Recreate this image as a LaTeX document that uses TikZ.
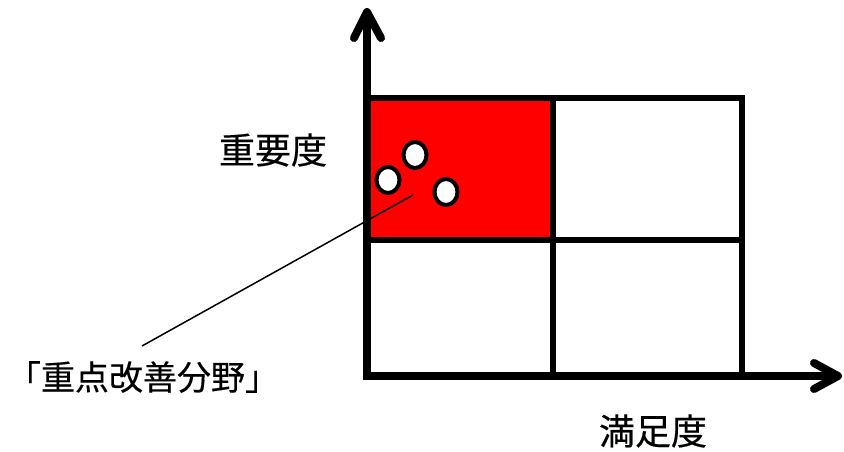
\documentclass[tikz,border=0pt]{standalone}
\usepackage{fontspec}
\newfontfamily\jp[FakeBold=0.4]{Noto Sans CJK JP}
\usetikzlibrary{shapes.geometric}
\begin{document}
\begin{tikzpicture}[x=1pt,y=-1pt,
  cell/.style={draw=black,line width=6pt},
  axis/.style={draw=black,line width=8pt,line cap=round,line join=round},
  dot/.style={ellipse,draw=black,fill=white,line width=4pt,inner sep=0pt,minimum width=23pt,minimum height=26pt},
  lbl/.style={font=\jp\fontsize{34}{40}\selectfont,inner sep=0pt},
  lblbig/.style={lbl,font=\jp\fontsize{36}{42}\selectfont}]
\useasboundingbox (0,0) rectangle (844,452);
\fill[red] (367,98) rectangle (553,240);
\draw[cell] (367,98) rectangle (742,376);
\draw[cell] (553,98) -- (553,376);
\draw[cell] (367,240) -- (742,240);
\coordinate (otop) at (367,12);
\coordinate (o) at (367,378);
\coordinate (xo) at (363,376);
\coordinate (xr) at (838,376);
\draw[axis,line cap=butt] (o) -- (otop);
\draw[axis] (354,38) -- (otop) -- (381,38);
\draw[axis,line cap=butt] (xo) -- (xr);
\draw[axis] (814,363) -- (xr) -- (814,389);
\node[dot] (c1) at (415,155) {};
\node[dot] (c2) at (388,180) {};
\node[dot] (c3) at (446,192) {};
\node[lblbig] (imp) at (273,150) {重要度};
\node[lblbig] (sat) at (653,431) {満足度};
\node[lbl] (area) at (143,377) {「重点改善分野」};
\coordinate (ls) at (413,195);
\coordinate (le) at (142,346);
\draw[line width=1.5pt] (ls) -- (le);
\end{tikzpicture}
\end{document}
